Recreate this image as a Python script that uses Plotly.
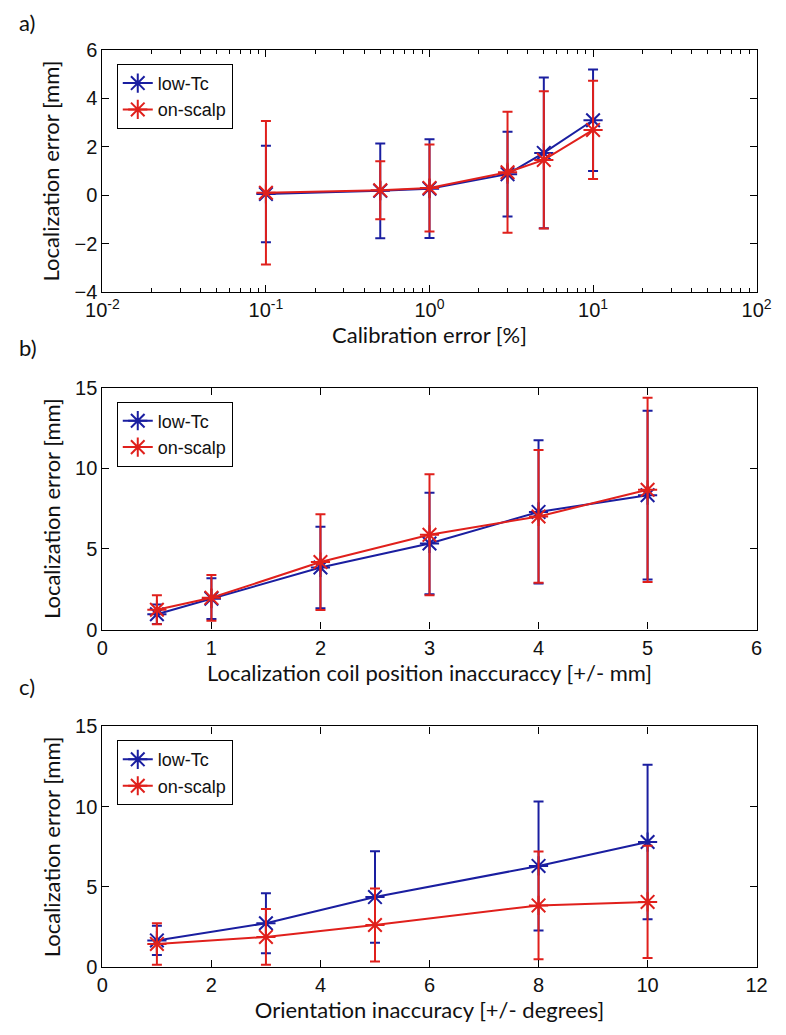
import plotly.graph_objects as go

# ---- data ----
cal_x = [0.1, 0.5, 1, 3, 5, 10]
cal_low = [0.05, 0.18, 0.27, 0.87, 1.75, 3.1]
cal_low_err = [2.0, 1.96, 2.04, 1.75, 3.12, 2.1]
cal_on = [0.1, 0.2, 0.3, 0.95, 1.46, 2.7]
cal_on_err = [2.97, 1.2, 1.8, 2.5, 2.84, 2.03]

pos_x = [0.5, 1, 2, 3, 4, 5]
pos_low = [0.95, 1.92, 3.85, 5.34, 7.3, 8.34]
pos_low_err = [0.6, 1.27, 2.53, 3.15, 4.44, 5.24]
pos_on = [1.23, 1.97, 4.19, 5.88, 7.02, 8.67]
pos_on_err = [0.9, 1.42, 2.97, 3.75, 4.12, 5.72]

ori_x = [1, 3, 5, 8, 10]
ori_low = [1.67, 2.74, 4.37, 6.31, 7.8]
ori_low_err = [0.91, 1.87, 2.85, 4.02, 4.81]
ori_on = [1.45, 1.89, 2.63, 3.85, 4.07]
ori_on_err = [1.29, 1.73, 2.28, 3.36, 3.5]

names = ["low-Tc", "on-scalp"]
BLUE = "#1a1ea0"
RED = "#e0201c"

W, H = 786, 1035
px0, px1 = 89, 771
panels = [(40, 287), (385, 632), (731, 977)]

fig = go.Figure()

def ydom(t, b):
    return [1 - b / H, 1 - t / H]

def add(xs, ys, errs, name, color, k, legend):
    fig.add_trace(go.Scatter(
        x=xs, y=ys, name=name, mode="lines+markers",
        line=dict(color=color, width=2),
        marker=dict(symbol="asterisk-open", size=16, line=dict(color=color, width=2)),
        error_y=dict(type="data", array=errs, visible=True, color=color, thickness=2, width=5),
        xaxis="x" if k == 1 else f"x{k}", yaxis="y" if k == 1 else f"y{k}",
        legend=legend,
    ))

add(cal_x, cal_low, cal_low_err, names[0], BLUE, 1, "legend")
add(cal_x, cal_on, cal_on_err, names[1], RED, 1, "legend")
add(pos_x, pos_low, pos_low_err, names[0], BLUE, 2, "legend2")
add(pos_x, pos_on, pos_on_err, names[1], RED, 2, "legend2")
add(ori_x, ori_low, ori_low_err, names[0], BLUE, 3, "legend3")
add(ori_x, ori_on, ori_on_err, names[1], RED, 3, "legend3")

tickfont = dict(family="Liberation Sans", size=20, color="#111")
titlefont = dict(family="Lato", size=22, color="#111")
common = dict(showline=True, linecolor="black", linewidth=1.2, mirror="ticks",
              ticks="inside", ticklen=7, tickcolor="black", showgrid=False,
              zeroline=False, tickfont=tickfont)

xd = [px0 / W, px1 / W]

fig.update_layout(
    width=W, height=H, margin=dict(l=0, r=0, t=0, b=0),
    paper_bgcolor="white", plot_bgcolor="white", showlegend=True,
    xaxis=dict(domain=xd, anchor="y", type="log", range=[-2, 2],
               tickvals=[0.01, 0.1, 1, 10, 100],
               ticktext=["10<sup>-2</sup>", "10<sup>-1</sup>", "10<sup>0</sup>", "10<sup>1</sup>", "10<sup>2</sup>"],
               minor=dict(ticks="inside", ticklen=4, tickcolor="black", dtick="D1"),
               title=dict(text="Calibration error [%]", font=titlefont, standoff=2), **common),
    yaxis=dict(domain=ydom(*panels[0]), anchor="x", range=[-4, 6], dtick=2,
               title=dict(text="Localization error [mm]", font=titlefont, standoff=8), **common),
    xaxis2=dict(domain=xd, anchor="y2", range=[0, 6], dtick=1,
                title=dict(text="Localization coil position inaccuraccy [+/- mm]", font=titlefont, standoff=2), **common),
    yaxis2=dict(domain=ydom(*panels[1]), anchor="x2", range=[0, 15], dtick=5,
                title=dict(text="Localization error [mm]", font=titlefont, standoff=8), **common),
    xaxis3=dict(domain=xd, anchor="y3", range=[0, 12], dtick=2,
                title=dict(text="Orientation inaccuracy [+/- degrees]", font=titlefont, standoff=2), **common),
    yaxis3=dict(domain=ydom(*panels[2]), anchor="x3", range=[0, 15], dtick=5,
                title=dict(text="Localization error [mm]", font=titlefont, standoff=8), **common),
)

legstyle = dict(bordercolor="black", borderwidth=1, bgcolor="white",
                font=dict(family="Liberation Sans", size=18, color="#111"),
                xanchor="left", yanchor="top", tracegroupgap=0, itemwidth=30)
for i, key in enumerate(["legend", "legend2", "legend3"]):
    t, b = panels[i]
    fig.update_layout({key: dict(x=104 / W, y=1 - (t + 14) / H, **legstyle)})

for lab, yy in [("a)", 12), ("b)", 344), ("c)", 690)]:
    fig.add_annotation(text=lab, x=0, y=1 - yy / H, xref="paper", yref="paper",
                       xanchor="left", yanchor="middle", showarrow=False,
                       font=dict(family="Lato", size=22, color="#111"))

fig.write_html("out.html", config={"displayModeBar": False},
               post_script="document.body.style.margin='0';")
